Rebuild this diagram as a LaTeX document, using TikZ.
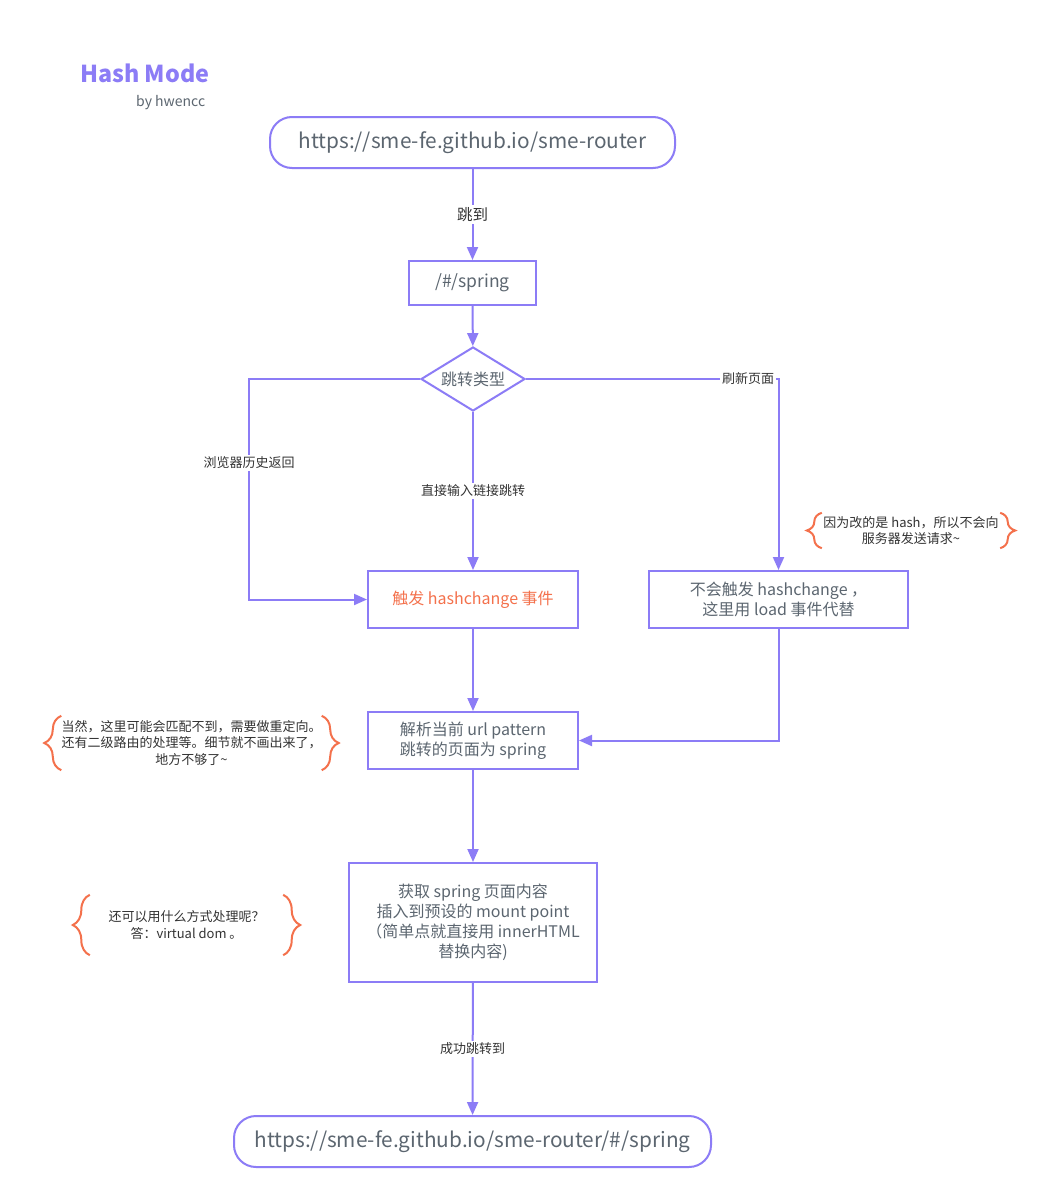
\documentclass[tikz,border=0pt]{standalone}
\usepackage{fontspec}
\setmainfont{Noto Sans CJK SC}
\usetikzlibrary{arrows.meta,shapes.geometric,decorations.pathreplacing}
\definecolor{pur}{HTML}{8C7CF6}
\definecolor{txt}{HTML}{5C6670}
\definecolor{org}{HTML}{F4714C}
\definecolor{lbl}{HTML}{333333}
\tikzset{
  box/.style={draw=pur, line width=2pt, text=txt, align=center, inner sep=0pt,
    font=\fontsize{16}{20}\selectfont},
  pill/.style={box, rounded corners=22pt, font=\fontsize{20.8}{24}\selectfont},
  arr/.style={draw=pur, line width=2pt, -{Triangle[length=13pt,width=11pt]}},
  elbl/.style={fill=white, text=lbl, inner sep=2pt, font=\fontsize{13}{16}\selectfont},
  note/.style={text=lbl, align=center, inner sep=0pt, font=\fontsize{13}{16.5}\selectfont},
  lbrace/.style={draw=org, line width=2pt, decorate,
    decoration={brace, amplitude=#1, aspect=0.5}},
}
\begin{document}
\begin{tikzpicture}[x=1pt,y=-1pt]
\useasboundingbox[fill=white] (0,0) rectangle (1043,1199);

% title
\node[text=pur, inner sep=0pt, anchor=west, font=\fontsize{23.3}{27}\bfseries] (title) at (80,73) {Hash Mode};
\node[text=txt, inner sep=0pt, anchor=west, font=\fontsize{14}{17}\selectfont] (by) at (136,103) {by hwencc};

% nodes
\node[pill, minimum width=405pt, minimum height=51pt] (n1) at (472.5,142.5) {https://sme-fe.github.io/sme-router};
\node[box, minimum width=127pt, minimum height=44pt, font=\fontsize{17.5}{20}\selectfont] (n2) at (472.5,283) {/\#/spring};
\node[draw=pur, line width=2pt, shape=diamond, inner sep=0pt, minimum width=104pt, minimum height=64pt] (d) at (473,379) {};
\node[text=txt, inner sep=0pt, font=\fontsize{16}{20}\selectfont] (dt) at (d.center) {跳转类型};
\node[box, text=org, minimum width=210pt, minimum height=57pt] (hc) at (473,599.5) {触发 hashchange 事件};
\node[box, minimum width=259pt, minimum height=57pt] (rl) at (778.5,599.5) {不会触发 hashchange ，\\这里用 load 事件代替};
\node[box, minimum width=210pt, minimum height=57pt] (pa) at (473,740.5) {解析当前 url pattern\\跳转的页面为 spring};
\node[box, minimum width=248pt, minimum height=119pt] (co) at (473,922.5) {获取 spring 页面内容\\插入到预设的 mount point\\（简单点就直接用 innerHTML\\替换内容)};
\node[pill, minimum width=477pt, minimum height=51pt] (n6) at (472.5,1141.5) {https://sme-fe.github.io/sme-router/\#/spring};

\coordinate (lc) at (249,599.5);

% connectors
\draw[arr] (n1) -- node[elbl, font=\fontsize{15.5}{18}\selectfont]{跳到} (n2);
\draw[arr] (n2) -- (d);
\draw[arr] (d.west) -| node[elbl, pos=0.69]{浏览器历史返回} (lc) -- (hc.west);
\draw[arr] (d.south) -- node[elbl]{直接输入链接跳转} (hc.north);
\draw[arr] (d.east) -| node[elbl, pos=0.44]{刷新页面} (rl.north);
\draw[arr] (hc) -- (pa);
\draw[arr] (rl.south) |- (pa.east);
\draw[arr] (pa) -- (co);
\draw[arr] (co) -- node[elbl]{成功跳转到} (n6);

% notes
\node[note, minimum width=178pt, minimum height=35pt] (a1) at (911,530.5) {因为改的是 hash，所以不会向\\服务器发送请求\textasciitilde};
\draw[lbrace=15pt] (a1.south west) -- (a1.north west);
\draw[lbrace=15pt] (a1.north east) -- (a1.south east);

\node[note, minimum width=253pt, minimum height=54pt] (a2) at (191.5,743) {当然，这里可能会匹配不到，需要做重定向。\\还有二级路由的处理等。细节就不画出来了，\\地方不够了\textasciitilde};
\draw[lbrace=17pt] (a2.south west) -- (a2.north west);
\draw[lbrace=17pt] (a2.north east) -- (a2.south east);

\node[note, minimum width=193pt, minimum height=60pt] (a3) at (186.5,925) {还可以用什么方式处理呢？\\答：virtual dom 。};
\draw[lbrace=17pt] (a3.south west) -- (a3.north west);
\draw[lbrace=17pt] (a3.north east) -- (a3.south east);
\end{tikzpicture}
\end{document}
